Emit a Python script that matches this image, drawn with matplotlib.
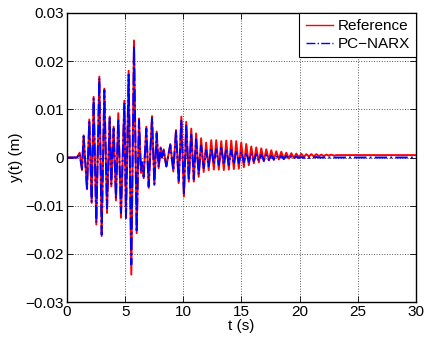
import matplotlib
matplotlib.use("Agg")
import matplotlib.pyplot as plt

plt.rcParams['font.family'] = ['Liberation Sans', 'DejaVu Sans']

# extrema of the two responses (time in s, displacement in m)
t_pk = [0.0, 0.86, 1.09, 1.29, 1.43, 1.72, 1.92, 2.12, 2.29, 2.52, 2.78, 2.98,
        3.21, 3.44, 3.67, 3.81, 4.01, 4.21, 4.41, 4.64, 4.93, 5.07, 5.30, 5.53,
        5.76, 5.99, 6.19, 6.36, 6.45, 6.59, 6.82, 7.02, 7.31, 7.51, 7.71, 7.88,
        8.05, 8.17, 8.31, 8.54, 8.88, 9.14, 9.37, 9.60, 9.83, 10.05, 10.25, 10.47,
        10.68, 10.90, 11.10, 11.32, 11.53, 11.75, 11.96, 12.18, 12.40, 12.62, 12.83, 13.05,
        13.26, 13.48, 13.69, 13.91, 14.12, 14.34, 14.55, 14.77, 14.98, 15.20, 15.41, 15.63,
        15.84, 16.06, 16.27, 16.49, 16.70, 16.92, 17.13, 17.35, 17.56, 17.78, 17.99, 18.21,
        18.42, 18.64, 18.85, 19.07, 19.28, 19.50, 19.71, 19.93, 20.14, 20.36, 20.57, 20.79,
        21.00, 21.22, 21.43, 21.65, 21.86, 22.08, 22.29, 22.51, 22.72, 22.94, 23.15, 30.0]

ref_pk = [0.0, 0.0, 0.0010, -0.0026, 0.0046, -0.0066, 0.0079, -0.0094, 0.0126, -0.0139, 0.0168, -0.0163,
          0.0143, -0.0115, 0.0085, -0.0060, 0.0064, -0.0089, 0.0092, -0.0125, 0.0118, -0.0126, 0.0180, -0.0243,
          0.0243, -0.0157, 0.0081, -0.0032, -0.0010, -0.0043, 0.0064, -0.0063, 0.0086, -0.0057, 0.0054, -0.0022,
          0.0021, 0.0, 0.0017, -0.0019, 0.0028, -0.0029, 0.0057, -0.0053, 0.0085, -0.0081, 0.0074, -0.0050,
          0.0060, -0.0050, 0.0050, -0.0040, 0.0040, -0.0030, 0.0031, -0.0026, 0.0036, -0.0025, 0.0036, -0.0025,
          0.0034, -0.0026, 0.0035, -0.0025, 0.0035, -0.0024, 0.0034, -0.0023, 0.0031, -0.0020, 0.0028, -0.0016,
          0.0023, -0.0012, 0.0021, -0.0010, 0.0019, -0.0008, 0.0017, -0.0006, 0.0015, -0.0005, 0.0013, -0.0004,
          0.0012, -0.0003, 0.0010, -0.0002, 0.0009, -0.0001, 0.0008, 0.0000, 0.0008, 0.0001, 0.0007, 0.0002,
          0.0007, 0.0002, 0.0007, 0.0003, 0.0006, 0.0003, 0.0006, 0.0004, 0.0006, 0.0004, 0.0005, 0.0005]

narx_pk = [0.0, 0.0, 0.0008, -0.0024, 0.0044, -0.0064, 0.0077, -0.0092, 0.0122, -0.0135, 0.0165, -0.0160,
           0.0140, -0.0105, 0.0082, -0.0055, 0.0060, -0.0085, 0.0080, -0.0115, 0.0112, -0.0125, 0.0172, -0.0222,
           0.0232, -0.0155, 0.0078, -0.0030, -0.0010, -0.0040, 0.0060, -0.0060, 0.0082, -0.0055, 0.0050, -0.0020,
           0.0019, 0.0, 0.0015, -0.0018, 0.0026, -0.0027, 0.0054, -0.0050, 0.0078, -0.0078, 0.0066, -0.0048,
           0.0050, -0.0045, 0.0038, -0.0035, 0.0025, -0.0022, 0.0015, -0.0018, 0.0020, -0.0014, 0.0017, -0.0016,
           0.0020, -0.0015, 0.0018, -0.0016, 0.0016, -0.0014, 0.0015, -0.0012, 0.0012, -0.0010, 0.0010, -0.0009,
           0.0008, -0.0008, 0.0007, -0.0007, 0.0006, -0.0006, 0.0005, -0.0005, 0.0004, -0.0004, 0.0004, -0.0003,
           0.0003, -0.0003, 0.0003, -0.0002, 0.0002, -0.0002, 0.0002, -0.0001, 0.0001, -0.0001, 0.0001, -0.0001,
           0.0001, 0.0, 0.0001, 0.0, 0.0, 0.0, 0.0, 0.0, 0.0, 0.0, 0.0, 0.0]

x_ticks = [0, 5, 10, 15, 20, 25, 30]
y_ticks = [-0.03, -0.02, -0.01, 0, 0.01, 0.02, 0.03]
y_ticklabels = ['\u22120.03', '\u22120.02', '\u22120.01', '0', '0.01', '0.02', '0.03']

fig = plt.figure(figsize=(4.28, 3.39), dpi=100)
ax = fig.add_axes([0.1565, 0.109, 0.8155, 0.8527])

ax.plot(t_pk, ref_pk, color='red', lw=1.4, label='Reference')
ax.plot(t_pk, narx_pk, color='blue', lw=1.4, ls='-.', label='PC\u2212NARX')

ax.set_xlim(0, 30)
ax.set_ylim(-0.03, 0.03)
ax.set_xticks(x_ticks)
ax.set_yticks(y_ticks)
ax.set_yticklabels(y_ticklabels)
ax.tick_params(direction='in', top=True, right=True, labelsize=11, length=4, width=0.6, pad=2)
for s in ax.spines.values():
    s.set_linewidth(1.0)
ax.grid(True, ls=':', color='0.35', lw=0.7)

ax.set_xlabel('t (s)', fontsize=11, labelpad=0)
ax.set_ylabel('y(t) (m)', fontsize=11, labelpad=2)

leg = ax.legend(loc='upper right', fontsize=11, fancybox=False, framealpha=1,
                edgecolor='black', borderaxespad=0.0, handlelength=1.8,
                handletextpad=0.3, borderpad=0.4, labelspacing=0.25)
leg.get_frame().set_linewidth(0.8)
for ln in leg.get_lines():
    ln.set_linewidth(1.0)

fig.savefig('out.png', dpi=100)
